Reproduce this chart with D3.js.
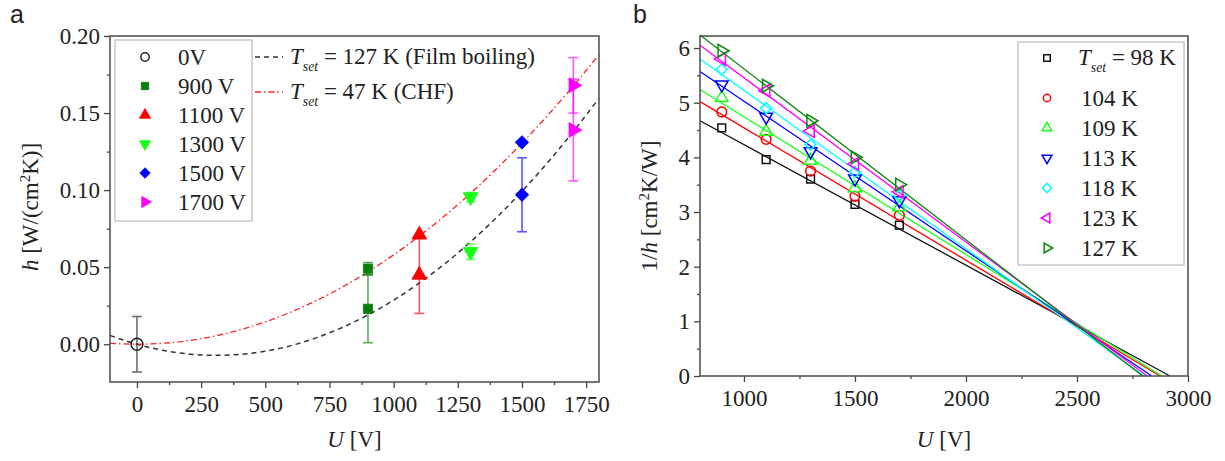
<!DOCTYPE html>
<html>
<head>
<meta charset="utf-8">
<script src="https://cdn.jsdelivr.net/npm/d3@7"></script>
<style>
    body { margin: 0; background: #fff; }
    svg text { font-family: "Liberation Serif", "Times New Roman", serif; fill: #222; }
    svg text.panel-label { font-family: "Liberation Sans", Arial, sans-serif; }
</style>
</head>
<body>
<svg id="chart" width="1225" height="461"></svg>
<script>
// ---- panel a data ----
const seriesA = ["0V", "900 V", "1100 V", "1300 V", "1500 V", "1700 V"];
const uA = [0, 900, 1100, 1300, 1500, 1700];
const hHigh = [0.000, 0.049, 0.071, 0.0955, 0.131, 0.168];
const errHigh = [0.018, 0.004, 0, 0.003, 0, 0.018];
const hLow = [null, 0.023, 0.045, 0.060, 0.097, 0.139];
const errLow = [null, 0.022, 0.025, 0.005, 0.024, 0.033];

// fitted curves
const fitU = [-105, 0, 100, 200, 300, 400, 500, 600, 700, 800, 900, 1000, 1100, 1200, 1300, 1400, 1500, 1600, 1700, 1800];
const filmFit = [0.0057, 0, -0.0039, -0.0063, -0.0072, -0.0066, -0.0045, -0.0009, 0.0043, 0.0109, 0.019, 0.0286, 0.0397, 0.0523, 0.0665, 0.0821, 0.0992, 0.1179, 0.138, 0.1596];
const chfFit = [0.0006, 0, 0.0006, 0.0023, 0.0052, 0.0093, 0.0145, 0.0209, 0.0284, 0.0371, 0.047, 0.058, 0.0702, 0.0835, 0.098, 0.1137, 0.1305, 0.1485, 0.1676, 0.1879];
const fitLabels = ["127 K (Film boiling)", "47 K (CHF)"];

// ---- panel b data ----
const tsetB = ["98 K", "104 K", "109 K", "113 K", "118 K", "123 K", "127 K"];
const uB = [900, 1100, 1300, 1500, 1700];
const invH = [
    [4.54, 3.96, 3.60, 3.14, 2.76],
    [4.83, 4.33, 3.75, 3.29, 2.94],
    [5.09, 4.47, 3.94, 3.44, 3.09],
    [5.33, 4.74, 4.11, 3.61, 3.21],
    [5.61, 4.90, 4.23, 3.73, 3.30],
    [5.80, 5.22, 4.48, 3.88, 3.37],
    [5.95, 5.31, 4.67, 4.00, 3.50]
];
const fitStartU = 802;
const fitStartVal = [4.67, 5.02, 5.24, 5.57, 5.80, 6.05, 6.24];
const fitZeroU = [2919, 2874, 2882, 2837, 2803, 2816, 2796];

const svg = d3.select("#chart");
const FS = 23;

const colA = ["#222", "#0a7d0a", "#ff0000", "#19ff19", "#0000ff", "#ff00ff"];
const colB = ["#111", "#ff0000", "#19ff19", "#0000ff", "#00ffff", "#ff00ff", "#0a8a0a"];

// symbol helper: kind, rotation
function sym(kind, size) {
    if (kind === "circle") return {d: d3.symbol(d3.symbolCircle, size)(), r: 0};
    if (kind === "square") return {d: d3.symbol(d3.symbolSquare, size)(), r: 0};
    if (kind === "diamond") return {d: d3.symbol(d3.symbolSquare, size)(), r: 45};
    let rot = {up: 0, down: 180, left: -90, right: 90}[kind];
    return {d: d3.symbol(d3.symbolTriangle, size)(), r: rot};
}
function drawSym(g, kind, size, x, y, color, filled) {
    let s = sym(kind, size);
    g.append("path")
        .attr("d", s.d)
        .attr("transform", `translate(${x},${y}) rotate(${s.r})`)
        .attr("fill", filled ? color : "none")
        .attr("stroke", color)
        .attr("stroke-width", filled ? 0.8 : 1.5);
}

function frameAxes(g, x, y, W, H, xTicks, xMinor, yTicks, yMinor, yFmt) {
    const ax = g.append("g");
    ax.append("g").attr("transform", `translate(0,${H})`)
        .call(d3.axisBottom(x).tickValues(xMinor).tickSize(3).tickFormat(""));
    ax.append("g")
        .call(d3.axisLeft(y).tickValues(yMinor).tickSize(3).tickFormat(""));
    ax.append("g").attr("class", "xa").attr("transform", `translate(0,${H})`)
        .call(d3.axisBottom(x).tickValues(xTicks).tickSize(6).tickPadding(8).tickFormat(d3.format("d")));
    ax.append("g").attr("class", "ya")
        .call(d3.axisLeft(y).tickValues(yTicks).tickSize(6).tickPadding(4).tickFormat(yFmt));
    ax.selectAll(".domain").remove();
    ax.selectAll("line").attr("stroke", "#444").attr("stroke-width", 1.3);
    ax.selectAll("text").attr("font-size", FS).attr("fill", "#222");
    g.append("rect").attr("width", W).attr("height", H)
        .attr("fill", "none").attr("stroke", "#555").attr("stroke-width", 1.6);
}

// ================= panel a =================
const A = {left: 110, top: 36, right: 599, bottom: 382};
const aW = A.right - A.left, aH = A.bottom - A.top;
const xA = d3.scaleLinear().domain([-105, 1800]).range([0, aW]);
const yA = d3.scaleLinear().domain([-0.0245, 0.2]).range([aH, 0]);
const ga = svg.append("g").attr("transform", `translate(${A.left},${A.top})`);

ga.append("clipPath").attr("id", "clipA")
    .append("rect").attr("width", aW).attr("height", aH);

const curveLine = d3.line()
    .x((d, i) => xA(fitU[i]))
    .y(d => yA(d))
    .curve(d3.curveMonotoneX);

const curves = ga.append("g").attr("clip-path", "url(#clipA)");
curves.append("path").attr("d", curveLine(filmFit))
    .attr("fill", "none").attr("stroke", "#333").attr("stroke-width", 1.5)
    .attr("stroke-dasharray", "5,4");
curves.append("path").attr("d", curveLine(chfFit))
    .attr("fill", "none").attr("stroke", "#ff2020").attr("stroke-width", 1.3)
    .attr("stroke-dasharray", "6,3,1.5,3");

const kindA = ["circle", "square", "up", "down", "diamond", "right"];
const sizeA = [110, 85, 95, 95, 90, 95];

// error bars
function errBar(g, u, h, e, color) {
    if (!e) return;
    let x = xA(u), y1 = yA(h - e), y2 = yA(h + e);
    let eb = g.append("g").attr("stroke", color).attr("stroke-width", 1.6).attr("opacity", 0.65);
    eb.append("line").attr("x1", x).attr("x2", x).attr("y1", y1).attr("y2", y2);
    eb.append("line").attr("x1", x - 5).attr("x2", x + 5).attr("y1", y1).attr("y2", y1);
    eb.append("line").attr("x1", x - 5).attr("x2", x + 5).attr("y1", y2).attr("y2", y2);
}
const pts = ga.append("g");
uA.forEach((u, i) => {
    errBar(pts, u, hHigh[i], errHigh[i], colA[i]);
    if (hLow[i] !== null) errBar(pts, u, hLow[i], errLow[i], colA[i]);
});
uA.forEach((u, i) => {
    drawSym(pts, kindA[i], sizeA[i], xA(u), yA(hHigh[i]), colA[i], i > 0);
    if (hLow[i] !== null) drawSym(pts, kindA[i], sizeA[i], xA(u), yA(hLow[i]), colA[i], true);
});

frameAxes(ga, xA, yA, aW, aH,
    d3.range(0, 1751, 250), d3.range(125, 1800, 250),
    d3.range(0, 0.201, 0.05), [0.025, 0.075, 0.125, 0.175],
    d3.format(".2f"));

// legend a (symbols)
const lgA = ga.append("g").attr("transform", "translate(5,4)");
lgA.append("rect").attr("width", 137).attr("height", 181)
    .attr("fill", "#fff").attr("stroke", "#bbb").attr("stroke-width", 1.2);
seriesA.forEach((s, i) => {
    let yy = 17 + i * 29;
    drawSym(lgA, kindA[i], 55, 30, yy, colA[i], i > 0);
    lgA.append("text").attr("x", 63).attr("y", yy + 8).attr("font-size", FS).text(s);
});

// legend a (fit lines)
function tset(g, x, y, rest, fs) {
    let t = g.append("text").attr("x", x).attr("y", y).attr("font-size", fs);
    t.append("tspan").attr("font-style", "italic").text("T");
    t.append("tspan").attr("font-style", "italic").attr("font-size", fs * 0.6)
        .attr("dy", 7).text("set");
    t.append("tspan").attr("dy", -7).text(" = " + rest);
}
const lgL = ga.append("g");
[["#333", "5,4"], ["#ff2020", "6,3,1.5,3"]].forEach((st, i) => {
    let yy = 21 + i * 35;
    lgL.append("line").attr("x1", 145).attr("x2", 173).attr("y1", yy).attr("y2", yy)
        .attr("stroke", st[0]).attr("stroke-width", 1.4).attr("stroke-dasharray", st[1]);
    tset(lgL, 180, yy + 7, fitLabels[i], FS);
});

// axis titles a
let xtA = svg.append("text").attr("x", A.left + aW / 2).attr("y", 447)
    .attr("text-anchor", "middle").attr("font-size", FS);
xtA.append("tspan").attr("font-style", "italic").text("U");
xtA.append("tspan").text(" [V]");

let ytA = svg.append("text").attr("transform", `translate(38,${A.top + aH / 2 - 2}) rotate(-90)`)
    .attr("text-anchor", "middle").attr("font-size", FS);
ytA.append("tspan").attr("font-style", "italic").text("h");
ytA.append("tspan").text(" [W/(cm");
ytA.append("tspan").attr("font-size", 15).attr("dy", -8).text("2");
ytA.append("tspan").attr("dy", 8).text("K)]");

svg.append("text").attr("class", "panel-label").attr("x", 10).attr("y", 23)
    .attr("font-size", 25).text("a");

// ================= panel b =================
const B = {left: 700, top: 36, right: 1188, bottom: 376};
const bW = B.right - B.left, bH = B.bottom - B.top;
const xB = d3.scaleLinear().domain([802, 3000]).range([0, bW]);
const yB = d3.scaleLinear().domain([0, 6.22]).range([bH, 0]);
const gb = svg.append("g").attr("transform", `translate(${B.left},${B.top})`);

const kindB = ["square", "circle", "up", "down", "diamond", "left", "right"];
const sizeB = [60, 75, 70, 70, 60, 70, 70];

const fits = gb.append("g");
tsetB.forEach((t, i) => {
    fits.append("line")
        .attr("x1", xB(fitStartU)).attr("y1", yB(fitStartVal[i]))
        .attr("x2", xB(fitZeroU[i])).attr("y2", yB(0))
        .attr("stroke", colB[i]).attr("stroke-width", 1.3);
});
const ptsB = gb.append("g");
invH.forEach((row, i) => {
    row.forEach((v, j) => drawSym(ptsB, kindB[i], sizeB[i], xB(uB[j]), yB(v), colB[i], false));
});

frameAxes(gb, xB, yB, bW, bH,
    d3.range(1000, 3001, 500), d3.range(1250, 3000, 500),
    d3.range(0, 6.1, 1), d3.range(0.5, 6.1, 1),
    d3.format("d"));

// legend b
const lgB = gb.append("g").attr("transform", `translate(${1018 - B.left},${42 - B.top})`);
lgB.append("rect").attr("width", 166).attr("height", 223)
    .attr("fill", "#fff").attr("stroke", "#bbb").attr("stroke-width", 1.2);
tsetB.forEach((t, i) => {
    let yy = i === 0 ? 16 : 56 + (i - 1) * 30;
    drawSym(lgB, kindB[i], 42, 29, yy, colB[i], false);
    if (i === 0) tset(lgB, 60, yy + 7, t, FS);
    else lgB.append("text").attr("x", 63).attr("y", yy + 8).attr("font-size", FS).text(t);
});

// axis titles b
let xtB = svg.append("text").attr("x", B.left + bW / 2).attr("y", 447)
    .attr("text-anchor", "middle").attr("font-size", FS);
xtB.append("tspan").attr("font-style", "italic").text("U");
xtB.append("tspan").text(" [V]");

let ytB = svg.append("text").attr("transform", `translate(657,${A.top + 170}) rotate(-90)`)
    .attr("text-anchor", "middle").attr("font-size", FS);
ytB.append("tspan").text("1/");
ytB.append("tspan").attr("font-style", "italic").text("h");
ytB.append("tspan").text(" [cm");
ytB.append("tspan").attr("font-size", 15).attr("dy", -8).text("2");
ytB.append("tspan").attr("dy", 8).text("K/W]");

svg.append("text").attr("class", "panel-label").attr("x", 633).attr("y", 23)
    .attr("font-size", 25).text("b");
</script>
</body>
</html>
